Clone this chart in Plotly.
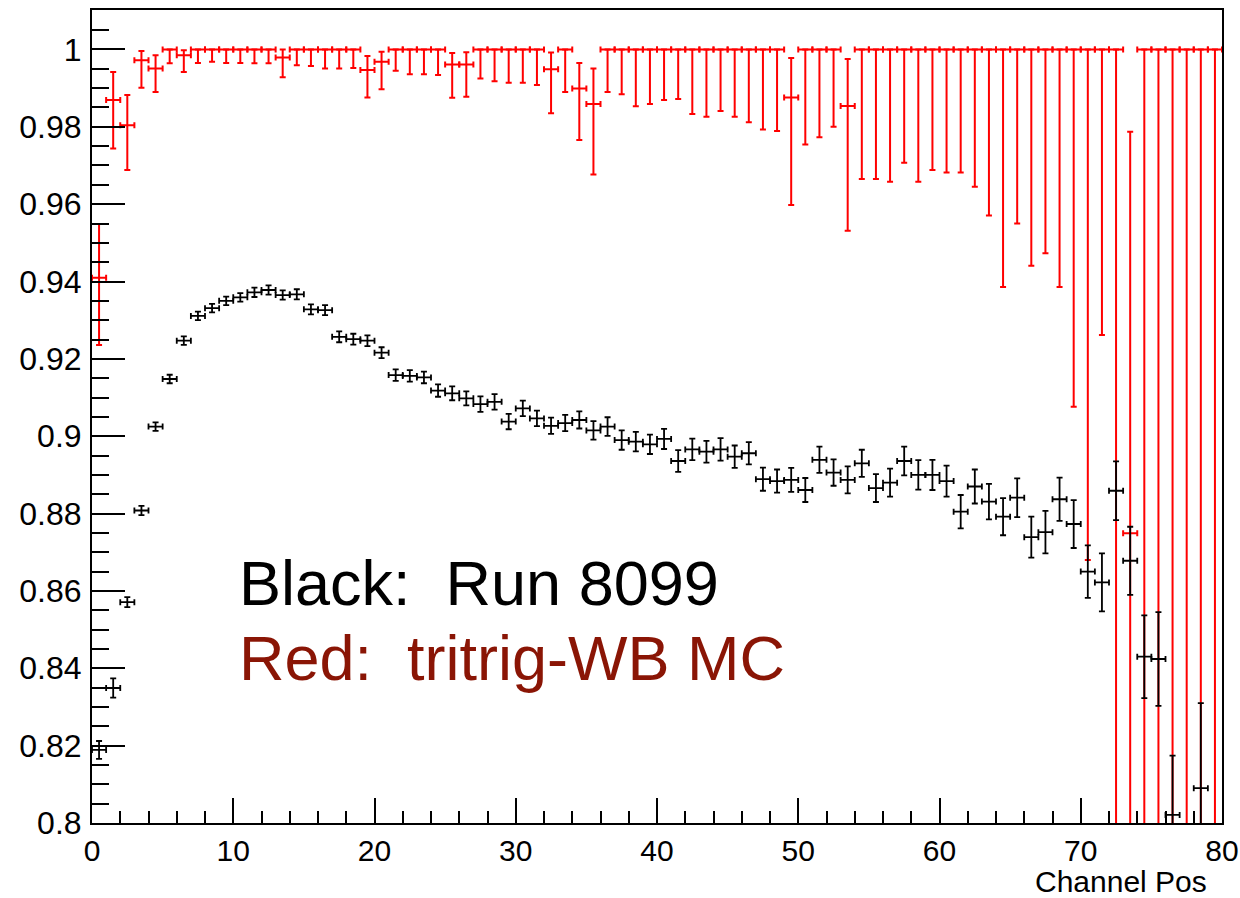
import plotly.graph_objects as go

# ---------------- data ----------------
bin_centers = [i + 0.5 for i in range(80)]
bin_half_width = [0.5] * 80

black_eff = [
    0.8189, 0.8349, 0.8571, 0.8808, 0.9025, 0.9148, 0.9247, 0.9311, 0.9331, 0.9350,
    0.9359, 0.9372, 0.9378, 0.9365, 0.9367, 0.9328, 0.9326, 0.9257, 0.9251, 0.9247,
    0.9216, 0.9158, 0.9156, 0.9152, 0.9118, 0.9111, 0.9098, 0.9083, 0.9089, 0.9038,
    0.9072, 0.9046, 0.9027, 0.9034, 0.9042, 0.9015, 0.9025, 0.8990, 0.8986, 0.8979,
    0.8993, 0.8936, 0.8966, 0.8960, 0.8966, 0.8947, 0.8956, 0.8889, 0.8884, 0.8887,
    0.8861, 0.8939, 0.8906, 0.8887, 0.8930, 0.8866, 0.8880, 0.8936, 0.8900, 0.8900,
    0.8884, 0.8805, 0.8870, 0.8831, 0.8792, 0.8841, 0.8739, 0.8752, 0.8837, 0.8773,
    0.8650, 0.8622, 0.8859, 0.8678, 0.8430, 0.8424, 0.8021, None, 0.8090, None,
]
black_err = [
    0.0023, 0.0025, 0.0013, 0.0012, 0.0011, 0.0011, 0.0011, 0.0011, 0.0011, 0.0011,
    0.0011, 0.0012, 0.0012, 0.0012, 0.0013, 0.0013, 0.0013, 0.0014, 0.0014, 0.0014,
    0.0014, 0.0015, 0.0015, 0.0015, 0.0016, 0.0018, 0.0018, 0.0020, 0.0020, 0.0020,
    0.0020, 0.0020, 0.0021, 0.0021, 0.0022, 0.0024, 0.0024, 0.0025, 0.0025, 0.0025,
    0.0026, 0.0028, 0.0028, 0.0028, 0.0029, 0.0029, 0.0029, 0.0030, 0.0030, 0.0031,
    0.0031, 0.0034, 0.0034, 0.0035, 0.0035, 0.0036, 0.0036, 0.0037, 0.0038, 0.0039,
    0.0040, 0.0043, 0.0044, 0.0046, 0.0048, 0.0050, 0.0053, 0.0055, 0.0056, 0.0062,
    0.0068, 0.0075, 0.0076, 0.0088, 0.0107, 0.0121, 0.0153, 0.0, 0.0220, 0.0,
]

red_eff = [
    0.9410, 0.9869, 0.9804, 0.9972, 0.9951, 1.0, 0.9985, 1.0, 1.0, 1.0,
    1.0, 1.0, 1.0, 0.9979, 1.0, 1.0, 1.0, 1.0, 1.0, 0.9947,
    0.9968, 1.0, 1.0, 1.0, 1.0, 0.9961, 0.9961, 1.0, 1.0, 1.0,
    1.0, 1.0, 0.9949, 1.0, 0.9899, 0.9859, 1.0, 1.0, 1.0, 1.0,
    1.0, 1.0, 1.0, 1.0, 1.0, 1.0, 1.0, 1.0, 1.0, 0.9876,
    1.0, 1.0, 1.0, 0.9854, 1.0, 1.0, 1.0, 1.0, 1.0, 1.0,
    1.0, 1.0, 1.0, 1.0, 1.0, 1.0, 1.0, 1.0, 1.0, 1.0,
    1.0, 1.0, 1.0, 0.8749, 1.0, 1.0, 1.0, 1.0, 1.0, 1.0,
]
red_err_up = [
    0.0139, 0.0073, 0.0078, 0.0024, 0.0034, 0.0, 0.0013, 0.0, 0.0, 0.0,
    0.0, 0.0, 0.0, 0.0021, 0.0, 0.0, 0.0, 0.0, 0.0, 0.0036,
    0.0026, 0.0, 0.0, 0.0, 0.0, 0.0030, 0.0032, 0.0, 0.0, 0.0,
    0.0, 0.0, 0.0043, 0.0, 0.0066, 0.0092, 0.0, 0.0, 0.0, 0.0,
    0.0, 0.0, 0.0, 0.0, 0.0, 0.0, 0.0, 0.0, 0.0, 0.0102,
    0.0, 0.0, 0.0, 0.0121, 0.0, 0.0, 0.0, 0.0, 0.0, 0.0,
    0.0, 0.0, 0.0, 0.0, 0.0, 0.0, 0.0, 0.0, 0.0, 0.0,
    0.0, 0.0, 0.0, 0.1038, 0.0, 0.0, 0.0, 0.0, 0.0, 0.0,
]
red_err_down = [
    0.0174, 0.0125, 0.0116, 0.0071, 0.0061, 0.0036, 0.0043, 0.0035, 0.0032, 0.0035,
    0.0035, 0.0036, 0.0036, 0.0051, 0.0041, 0.0043, 0.0049, 0.0049, 0.0048, 0.0071,
    0.0071, 0.0055, 0.0064, 0.0064, 0.0066, 0.0086, 0.0083, 0.0075, 0.0082, 0.0086,
    0.0086, 0.0092, 0.0114, 0.0110, 0.0133, 0.0182, 0.0110, 0.0116, 0.0147, 0.0141,
    0.0131, 0.0128, 0.0167, 0.0174, 0.0159, 0.0174, 0.0188, 0.0207, 0.0211, 0.0278,
    0.0246, 0.0227, 0.0200, 0.0323, 0.0335, 0.0335, 0.0342, 0.0293, 0.0342, 0.0312,
    0.0318, 0.0318, 0.0355, 0.0429, 0.0614, 0.0450, 0.0559, 0.0527, 0.0614, 0.0924,
    0.1320, 0.0738, 0.3500, 0.3000, 0.4000, 0.4000, 0.4500, 0.5000, 0.5000, 0.6000,
]

x_tick_vals = [0, 10, 20, 30, 40, 50, 60, 70, 80]
x_tick_text = ["0", "10", "20", "30", "40", "50", "60", "70", "80"]
y_tick_vals = [0.80, 0.82, 0.84, 0.86, 0.88, 0.90, 0.92, 0.94, 0.96, 0.98, 1.00]
y_tick_text = ["0.8", "0.82", "0.84", "0.86", "0.88", "0.9", "0.92", "0.94", "0.96", "0.98", "1"]

x_title = "Channel Pos"
label_black = "Black:\u00a0\u00a0Run 8099"
label_red = "Red:\u00a0\u00a0tritrig-WB MC"

FONT = "Liberation Sans, Arial, Helvetica, sans-serif"

fig = go.Figure()

fig.add_trace(go.Scatter(
    x=bin_centers, y=red_eff, mode="markers",
    marker=dict(size=0, color="#ff0000", opacity=0),
    error_x=dict(type="data", array=bin_half_width, color="#ff0000", thickness=2, width=3),
    error_y=dict(type="data", symmetric=False, array=red_err_up, arrayminus=red_err_down,
                 color="#ff0000", thickness=2, width=3),
    showlegend=False, hoverinfo="skip",
))

fig.add_trace(go.Scatter(
    x=bin_centers, y=black_eff, mode="markers",
    marker=dict(size=0, color="#000000", opacity=0),
    error_x=dict(type="data", array=bin_half_width, color="#000000", thickness=1.8, width=3),
    error_y=dict(type="data", array=black_err, color="#000000", thickness=1.8, width=3),
    showlegend=False, hoverinfo="skip",
))

fig.add_annotation(text=label_black, xref="paper", yref="paper", x=0.128, y=(823 - 583) / 813,
                   xanchor="left", yanchor="middle", showarrow=False,
                   font=dict(family=FONT, size=63, color="#000000"))
fig.add_annotation(text=label_red, xref="paper", yref="paper", x=0.128, y=(823 - 658) / 813,
                   xanchor="left", yanchor="middle", showarrow=False,
                   font=dict(family=FONT, size=63, color="#8a1505"))
fig.add_annotation(text=x_title, xref="paper", yref="paper", x=(1209 - 92) / 1130, y=(823 - 882) / 813,
                   xanchor="right", yanchor="middle", showarrow=False,
                   font=dict(family=FONT, size=30, color="#000000"))

fig.update_layout(
    width=1240, height=898,
    margin=dict(l=92, r=18, t=10, b=75, pad=0, autoexpand=False),
    paper_bgcolor="white", plot_bgcolor="white",
    font=dict(family=FONT, color="black"),
    xaxis=dict(
        range=[0, 80], tickvals=x_tick_vals, ticktext=x_tick_text,
        ticks="inside", ticklen=25, tickwidth=1.5, tickcolor="black",
        showline=True, linecolor="black", linewidth=2, mirror=True,
        showgrid=False, zeroline=False, automargin=False,
        tickfont=dict(family=FONT, size=30, color="black"),
        minor=dict(ticks="inside", ticklen=12, tickwidth=1.5, tickcolor="black", dtick=2, showgrid=False),
    ),
    yaxis=dict(
        range=[0.8, 1.0102], tickvals=y_tick_vals, ticktext=y_tick_text,
        ticks="inside", ticklen=33, tickwidth=1.5, tickcolor="black",
        showline=True, linecolor="black", linewidth=2, mirror=True,
        showgrid=False, zeroline=False, automargin=False,
        tickfont=dict(family=FONT, size=32, color="black"),
        ticklabelstandoff=2,
        minor=dict(ticks="inside", ticklen=17, tickwidth=1.5, tickcolor="black", dtick=0.005, showgrid=False),
    ),
)

fig.write_html("out.html")
